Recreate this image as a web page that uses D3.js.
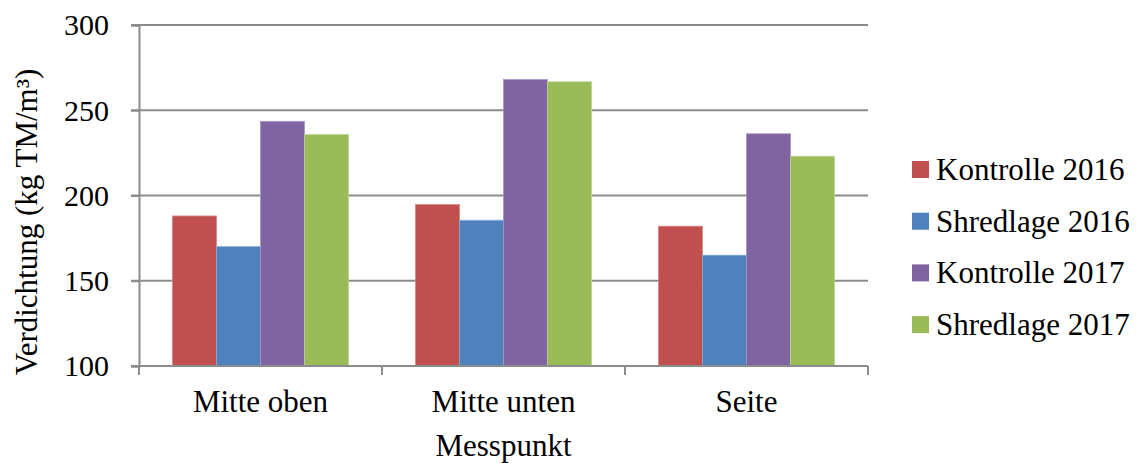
<!DOCTYPE html>
<html><head><meta charset="utf-8"><script src="https://cdn.jsdelivr.net/npm/d3@7"></script></head>
<body style="margin:0">
<svg id="chart" width="1142" height="463" font-family="Liberation Serif"></svg>
<script>
// Messpunkte (categories) and series
const categories = ["Mitte oben", "Mitte unten", "Seite"];
const seriesNames = ["Kontrolle 2016", "Shredlage 2016", "Kontrolle 2017", "Shredlage 2017"];
const kontrolle2016 = [188, 194.7, 182];
const shredlage2016 = [170, 185.5, 165];
const kontrolle2017 = [243.5, 268, 236.2];
const shredlage2017 = [235.7, 266.7, 223];
const yTicks = [100, 150, 200, 250, 300];
const colors = ["#C0504D", "#4F81BD", "#8064A2", "#9BBB59"];
const strokes = ["#d48a88", "#8aaad6", "#a894c0", "#bed394"];

const seriesValues = [kontrolle2016, shredlage2016, kontrolle2017, shredlage2017];

const svg = d3.select("#chart");
const plot = { left: 139, right: 868, top: 25, bottom: 366 };

// Every label uses the same serif face
function serif(sel, size) {
  return sel.attr("font-family", "Liberation Serif")
    .style("font-family", '"Liberation Serif"')
    .style("font-size", size + "px")
    .attr("fill", "#000");
}

const x0 = d3.scaleBand().domain(categories).range([plot.left, plot.right]).padding(0);
const x1 = d3.scaleBand().domain(seriesNames).range([0, x0.bandwidth()])
  .paddingInner(0).paddingOuter(0.76);
const y = d3.scaleLinear().domain([100, 300]).range([plot.bottom, plot.top]);

const gridColor = "#8c8c8c";

// Horizontal gridlines
svg.append("g").selectAll("line").data(yTicks).join("line")
  .attr("x1", plot.left - 8).attr("x2", plot.right)
  .attr("y1", d => y(d)).attr("y2", d => y(d))
  .attr("stroke", gridColor).attr("stroke-width", 2);

// Y axis
const yAxis = svg.append("g").attr("transform", `translate(${plot.left},0)`)
  .call(d3.axisLeft(y).tickValues(yTicks).tickSize(8).tickPadding(22));
yAxis.attr("font-family", "Liberation Serif").attr("font-size", 30);
yAxis.select(".domain").attr("stroke", gridColor).attr("stroke-width", 2);
yAxis.selectAll(".tick line").attr("stroke", gridColor).attr("stroke-width", 2);
serif(yAxis.selectAll(".tick text"), 30).attr("dy", "0.33em");

// Bars
const groups = svg.append("g").selectAll("g").data(categories).join("g")
  .attr("transform", d => `translate(${x0(d)},0)`);
groups.selectAll("rect")
  .data((c, i) => seriesNames.map((s, k) => ({ s, k, v: seriesValues[k][i] })))
  .join("rect")
  .attr("x", d => x1(d.s))
  .attr("width", x1.bandwidth())
  .attr("y", d => y(d.v))
  .attr("height", d => y(100) - y(d.v))
  .attr("fill", d => colors[d.k])
  .attr("stroke", d => strokes[d.k])
  .attr("stroke-width", 0.8);

// X axis
const xAxis = svg.append("g").attr("transform", `translate(0,${plot.bottom})`)
  .call(d3.axisBottom(x0).tickSize(0).tickPadding(24));
xAxis.attr("font-family", "Liberation Serif").attr("font-size", 31);
xAxis.select(".domain").remove();
serif(xAxis.selectAll(".tick text"), 31);
svg.append("line").attr("x1", plot.left).attr("x2", plot.right)
  .attr("y1", plot.bottom).attr("y2", plot.bottom)
  .attr("stroke", gridColor).attr("stroke-width", 2);
const boundaries = categories.map(c => x0(c)).concat([plot.right]);
svg.append("g").selectAll("line").data(boundaries).join("line")
  .attr("x1", d => d).attr("x2", d => d)
  .attr("y1", plot.bottom).attr("y2", plot.bottom + 9)
  .attr("stroke", gridColor).attr("stroke-width", 2);

// Axis titles
serif(svg.append("text"), 31).attr("x", (plot.left + plot.right) / 2).attr("y", 456)
  .attr("text-anchor", "middle").text("Messpunkt");
serif(svg.append("text"), 31).attr("transform", "translate(37,222) rotate(-90)")
  .attr("text-anchor", "middle").text("Verdichtung (kg TM/m³)");

// Legend
const legend = svg.append("g").selectAll("g").data(seriesNames).join("g")
  .attr("transform", (d, i) => `translate(912,${161 + i * 51.7})`);
legend.append("rect").attr("width", 17).attr("height", 17)
  .attr("fill", (d, i) => colors[i]);
serif(legend.append("text"), 31).attr("x", 24).attr("y", 19).text(d => d);
</script>
</body></html>
